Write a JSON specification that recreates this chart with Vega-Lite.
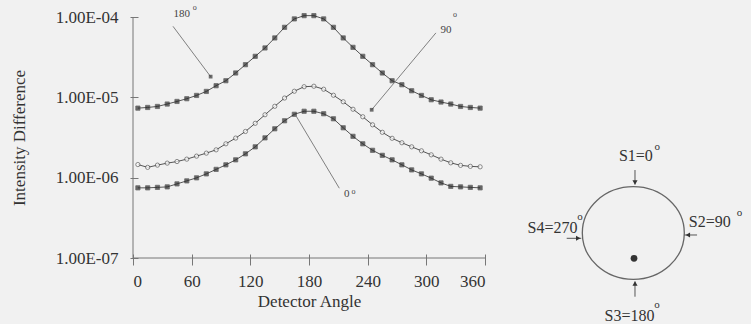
{
  "$schema": "https://vega.github.io/schema/vega-lite/v6.json",
  "autosize": {"type": "none"},
  "padding": {"left": 133, "top": 17, "right": 266, "bottom": 66},
  "width": 352,
  "height": 241,
  "background": "#f1f1f1",
  "config": {"view": {"stroke": null}, "font": "Liberation Serif"},
  "datasets": {
    "curves": [
      {"series": "180°", "angle": 5, "value": 7.34e-6}, {"series": "180°", "angle": 15, "value": 7.48e-6}, {"series": "180°", "angle": 25, "value": 7.70e-6}, {"series": "180°", "angle": 35, "value": 8.25e-6}, {"series": "180°", "angle": 45, "value": 8.89e-6}, {"series": "180°", "angle": 55, "value": 9.61e-6}, {"series": "180°", "angle": 65, "value": 1.056e-5}, {"series": "180°", "angle": 75, "value": 1.185e-5}, {"series": "180°", "angle": 85, "value": 1.396e-5}, {"series": "180°", "angle": 95, "value": 1.61e-5}, {"series": "180°", "angle": 105, "value": 2.01e-5}, {"series": "180°", "angle": 115, "value": 2.55e-5}, {"series": "180°", "angle": 125, "value": 3.24e-5}, {"series": "180°", "angle": 135, "value": 4.12e-5}, {"series": "180°", "angle": 145, "value": 5.49e-5}, {"series": "180°", "angle": 155, "value": 7.44e-5}, {"series": "180°", "angle": 165, "value": 9.47e-5}, {"series": "180°", "angle": 175, "value": 1.04e-4}, {"series": "180°", "angle": 185, "value": 1.04e-4}, {"series": "180°", "angle": 195, "value": 9.47e-5}, {"series": "180°", "angle": 205, "value": 7.44e-5}, {"series": "180°", "angle": 215, "value": 5.49e-5}, {"series": "180°", "angle": 225, "value": 4.19e-5}, {"series": "180°", "angle": 235, "value": 3.24e-5}, {"series": "180°", "angle": 245, "value": 2.55e-5}, {"series": "180°", "angle": 255, "value": 2.01e-5}, {"series": "180°", "angle": 265, "value": 1.61e-5}, {"series": "180°", "angle": 275, "value": 1.436e-5}, {"series": "180°", "angle": 285, "value": 1.208e-5}, {"series": "180°", "angle": 295, "value": 1.056e-5}, {"series": "180°", "angle": 305, "value": 9.33e-6}, {"series": "180°", "angle": 315, "value": 8.74e-6}, {"series": "180°", "angle": 325, "value": 8.25e-6}, {"series": "180°", "angle": 335, "value": 7.70e-6}, {"series": "180°", "angle": 345, "value": 7.48e-6}, {"series": "180°", "angle": 355, "value": 7.34e-6},
      {"series": "90°", "angle": 5, "value": 1.456e-6}, {"series": "90°", "angle": 15, "value": 1.344e-6}, {"series": "90°", "angle": 25, "value": 1.432e-6}, {"series": "90°", "angle": 35, "value": 1.517e-6}, {"series": "90°", "angle": 45, "value": 1.588e-6}, {"series": "90°", "angle": 55, "value": 1.701e-6}, {"series": "90°", "angle": 65, "value": 1.854e-6}, {"series": "90°", "angle": 75, "value": 2.02e-6}, {"series": "90°", "angle": 85, "value": 2.22e-6}, {"series": "90°", "angle": 95, "value": 2.64e-6}, {"series": "90°", "angle": 105, "value": 3.11e-6}, {"series": "90°", "angle": 115, "value": 3.76e-6}, {"series": "90°", "angle": 125, "value": 4.75e-6}, {"series": "90°", "angle": 135, "value": 6.07e-6}, {"series": "90°", "angle": 145, "value": 7.74e-6}, {"series": "90°", "angle": 155, "value": 9.80e-6}, {"series": "90°", "angle": 165, "value": 1.191e-5}, {"series": "90°", "angle": 175, "value": 1.356e-5}, {"series": "90°", "angle": 185, "value": 1.375e-5}, {"series": "90°", "angle": 195, "value": 1.262e-5}, {"series": "90°", "angle": 205, "value": 1.062e-5}, {"series": "90°", "angle": 215, "value": 8.81e-6}, {"series": "90°", "angle": 225, "value": 7.11e-6}, {"series": "90°", "angle": 235, "value": 5.73e-6}, {"series": "90°", "angle": 245, "value": 4.55e-6}, {"series": "90°", "angle": 255, "value": 3.67e-6}, {"series": "90°", "angle": 265, "value": 3.09e-6}, {"series": "90°", "angle": 275, "value": 2.72e-6}, {"series": "90°", "angle": 285, "value": 2.42e-6}, {"series": "90°", "angle": 295, "value": 2.16e-6}, {"series": "90°", "angle": 305, "value": 1.924e-6}, {"series": "90°", "angle": 315, "value": 1.701e-6}, {"series": "90°", "angle": 325, "value": 1.53e-6}, {"series": "90°", "angle": 335, "value": 1.423e-6}, {"series": "90°", "angle": 345, "value": 1.383e-6}, {"series": "90°", "angle": 355, "value": 1.364e-6},
      {"series": "0°", "angle": 5, "value": 7.47e-7}, {"series": "0°", "angle": 15, "value": 7.47e-7}, {"series": "0°", "angle": 25, "value": 7.57e-7}, {"series": "0°", "angle": 35, "value": 7.68e-7}, {"series": "0°", "angle": 45, "value": 8.37e-7}, {"series": "0°", "angle": 55, "value": 9.12e-7}, {"series": "0°", "angle": 65, "value": 9.95e-7}, {"series": "0°", "angle": 75, "value": 1.115e-6}, {"series": "0°", "angle": 85, "value": 1.268e-6}, {"series": "0°", "angle": 95, "value": 1.445e-6}, {"series": "0°", "angle": 105, "value": 1.667e-6}, {"series": "0°", "angle": 115, "value": 1.981e-6}, {"series": "0°", "angle": 125, "value": 2.42e-6}, {"series": "0°", "angle": 135, "value": 3.13e-6}, {"series": "0°", "angle": 145, "value": 4.06e-6}, {"series": "0°", "angle": 155, "value": 5.11e-6}, {"series": "0°", "angle": 165, "value": 6.15e-6}, {"series": "0°", "angle": 175, "value": 6.71e-6}, {"series": "0°", "angle": 185, "value": 6.71e-6}, {"series": "0°", "angle": 195, "value": 6.25e-6}, {"series": "0°", "angle": 205, "value": 5.41e-6}, {"series": "0°", "angle": 215, "value": 4.18e-6}, {"series": "0°", "angle": 225, "value": 3.27e-6}, {"series": "0°", "angle": 235, "value": 2.64e-6}, {"series": "0°", "angle": 245, "value": 2.19e-6}, {"series": "0°", "angle": 255, "value": 1.897e-6}, {"series": "0°", "angle": 265, "value": 1.667e-6}, {"series": "0°", "angle": 275, "value": 1.445e-6}, {"series": "0°", "angle": 285, "value": 1.25e-6}, {"series": "0°", "angle": 295, "value": 1.115e-6}, {"series": "0°", "angle": 305, "value": 9.86e-7}, {"series": "0°", "angle": 315, "value": 8.61e-7}, {"series": "0°", "angle": 325, "value": 7.79e-7}, {"series": "0°", "angle": 335, "value": 7.68e-7}, {"series": "0°", "angle": 345, "value": 7.57e-7}, {"series": "0°", "angle": 355, "value": 7.47e-7}
    ],
    "pointers": [
      {"target": "180°", "angle": 40.9, "value": 7.66e-5, "angle2": 79.4, "value2": 1.81e-5, "tip": true},
      {"target": "90°", "angle": 309.8, "value": 6.34e-5, "angle2": 244.1, "value2": 7.0e-6, "tip": true},
      {"target": "0°", "angle": 211, "value": 7.39e-7, "angle2": 166.4, "value2": 5.98e-6, "tip": false}
    ],
    "notes": [
      {"label": "180", "angle": 49.8, "value": 1.01e-4},
      {"label": "90", "angle": 320.2, "value": 6.38e-5},
      {"label": "0", "angle": 218.5, "value": 5.81e-7}
    ],
    "notedegs": [
      {"label": "o", "angle": 63.1, "value": 1.30e-4},
      {"label": "o", "angle": 329.2, "value": 1.07e-4},
      {"label": "o", "angle": 225.4, "value": 6.71e-7}
    ],
    "ring": [{"u": 0, "v": 0}],
    "source": [{"u": 0.014, "v": -0.496}],
    "shafts": [
      {"sensor": "S1", "u": 0.033, "v": 1.235, "u2": 0.033, "v2": 0.95},
      {"sensor": "S3", "u": 0.033, "v": -1.249, "u2": 0.033, "v2": -0.95},
      {"sensor": "S2", "u": 1.25, "v": -0.039, "u2": 1.0, "v2": -0.039},
      {"sensor": "S4", "u": -1.306, "v": -0.104, "u2": -1.02, "v2": -0.104}
    ],
    "heads": [
      {"dir": "down", "u": 0.033, "v": 0.99},
      {"dir": "up", "u": 0.033, "v": -0.99},
      {"dir": "left", "u": 1.07, "v": -0.039},
      {"dir": "right", "u": -1.08, "v": -0.104}
    ],
    "sensorlabels": [
      {"label": "S1=0", "u": 0.05, "v": 1.412},
      {"label": "S2=90", "u": 1.50, "v": 0.124},
      {"label": "S3=180", "u": -0.075, "v": -1.72},
      {"label": "S4=270", "u": -1.584, "v": -0.006}
    ],
    "sensordegs": [
      {"label": "o", "u": 0.47, "v": 1.692},
      {"label": "o", "u": 2.08, "v": 0.386},
      {"label": "o", "u": 0.465, "v": -1.41},
      {"label": "o", "u": -1.045, "v": 0.32}
    ]
  },
  "layer": [
    {
      "layer": [
        {
          "data": {"name": "curves"},
          "mark": {"type": "line", "color": "#555", "strokeWidth": 1, "clip": false},
          "encoding": {
            "x": {
              "field": "angle", "type": "quantitative",
              "scale": {"domain": [0, 360], "nice": false, "zero": false},
              "axis": {
                "orient": "bottom", "values": [0, 60, 120, 180, 240, 300, 360],
                "grid": false, "domain": false, "offset": -4,
                "tickSize": 11, "tickColor": "#777", "tickWidth": 1,
                "labelFont": "Liberation Serif", "labelFontSize": 17, "labelColor": "#333", "labelPadding": 8,
                "title": "Detector Angle", "titleFont": "Liberation Serif", "titleFontSize": 17,
                "titleFontWeight": "normal", "titleColor": "#333",
                "titleBaseline": "alphabetic", "titleY": 52
              }
            },
            "y": {
              "field": "value", "type": "quantitative",
              "scale": {"type": "log", "domain": [1e-7, 1e-4], "nice": false},
              "axis": {
                "orient": "left", "values": [1e-7, 1e-6, 1e-5, 1e-4],
                "grid": false, "domain": false, "offset": -5,
                "tickSize": 8, "tickColor": "#777", "tickWidth": 1,
                "labelExpr": "'1.00E-0' + round(-log(datum.value)/LN10)",
                "labelFont": "Liberation Serif", "labelFontSize": 17, "labelColor": "#333", "labelPadding": 12,
                "title": "Intensity Difference", "titleFont": "Liberation Serif", "titleFontSize": 17,
                "titleFontWeight": "normal", "titleColor": "#333",
                "titleBaseline": "alphabetic", "titleX": -114
              }
            },
            "detail": {"field": "series"}
          }
        },
        {
          "mark": {"type": "rule", "color": "#777", "strokeWidth": 1},
          "encoding": {"x": {"datum": 0}, "x2": {"datum": 360}, "y": {"datum": 1e-7}}
        },
        {
          "mark": {"type": "rule", "color": "#777", "strokeWidth": 1},
          "encoding": {"x": {"datum": 0}, "y": {"datum": 1e-7}, "y2": {"datum": 1e-4}}
        },
        {
          "data": {"name": "curves"},
          "mark": {"type": "point", "filled": true, "size": 18, "stroke": "#333", "strokeWidth": 0.8, "clip": false},
          "encoding": {
            "x": {"field": "angle", "type": "quantitative"},
            "y": {"field": "value", "type": "quantitative"},
            "fill": {"field": "series", "type": "nominal", "scale": {"domain": ["180°", "90°", "0°"], "range": ["#2a2a2a", "#ffffff", "#2a2a2a"]}, "legend": null},
            "shape": {"field": "series", "type": "nominal", "scale": {"domain": ["180°", "90°", "0°"], "range": ["square", "circle", "square"]}, "legend": null}
          }
        },
        {
          "data": {"name": "pointers"},
          "mark": {"type": "rule", "color": "#808080", "strokeWidth": 1, "clip": false},
          "encoding": {
            "x": {"field": "angle", "type": "quantitative"},
            "y": {"field": "value", "type": "quantitative"},
            "x2": {"field": "angle2"},
            "y2": {"field": "value2"}
          }
        },
        {
          "data": {"name": "pointers"},
          "transform": [{"filter": "datum.tip"}],
          "mark": {"type": "point", "shape": "square", "filled": true, "size": 14, "color": "#333", "clip": false},
          "encoding": {
            "x": {"field": "angle2", "type": "quantitative"},
            "y": {"field": "value2", "type": "quantitative"}
          }
        },
        {
          "data": {"name": "notes"},
          "mark": {"type": "text", "font": "Liberation Serif", "fontSize": 11, "color": "#444", "baseline": "alphabetic", "align": "center", "clip": false},
          "encoding": {
            "x": {"field": "angle", "type": "quantitative"},
            "y": {"field": "value", "type": "quantitative"},
            "text": {"field": "label"}
          }
        },
        {
          "data": {"name": "notedegs"},
          "mark": {"type": "text", "font": "Liberation Serif", "fontSize": 8, "color": "#444", "baseline": "middle", "align": "center", "clip": false},
          "encoding": {
            "x": {"field": "angle", "type": "quantitative"},
            "y": {"field": "value", "type": "quantitative"},
            "text": {"field": "label"}
          }
        }
      ]
    },
    {
      "encoding": {
        "x": {"field": "u", "type": "quantitative", "scale": {"domain": [-9.810, -2.908], "nice": false, "zero": false}, "axis": null},
        "y": {"field": "v", "type": "quantitative", "scale": {"domain": [-0.490, 4.235], "nice": false, "zero": false}, "axis": null}
      },
      "layer": [
        {
          "data": {"name": "ring"},
          "mark": {"type": "point", "shape": "M-1,0A1,0.908,0,1,1,1,0A1,0.908,0,1,1,-1,0Z", "size": 10404, "filled": false, "stroke": "#666", "strokeWidth": 1.3, "opacity": 1, "clip": false}
        },
        {
          "data": {"name": "source"},
          "mark": {"type": "point", "shape": "circle", "filled": true, "size": 45, "color": "#333", "opacity": 1, "clip": false}
        },
        {
          "data": {"name": "shafts"},
          "mark": {"type": "rule", "color": "#555", "strokeWidth": 1, "clip": false},
          "encoding": {"x2": {"field": "u2"}, "y2": {"field": "v2"}}
        },
        {
          "data": {"name": "heads"},
          "mark": {"type": "point", "filled": true, "size": 26, "color": "#333", "opacity": 1, "clip": false},
          "encoding": {
            "shape": {"field": "dir", "type": "nominal", "scale": {"domain": ["down", "up", "left", "right"], "range": ["triangle-down", "triangle-up", "triangle-left", "triangle-right"]}, "legend": null}
          }
        },
        {
          "data": {"name": "sensorlabels"},
          "mark": {"type": "text", "font": "Liberation Serif", "fontSize": 16, "color": "#333", "baseline": "alphabetic", "align": "center", "clip": false},
          "encoding": {"text": {"field": "label"}}
        },
        {
          "data": {"name": "sensordegs"},
          "mark": {"type": "text", "font": "Liberation Serif", "fontSize": 11, "color": "#333", "baseline": "middle", "align": "center", "clip": false},
          "encoding": {"text": {"field": "label"}}
        }
      ]
    }
  ],
  "resolve": {"scale": {"x": "independent", "y": "independent", "shape": "independent", "fill": "independent", "color": "independent"}}
}
